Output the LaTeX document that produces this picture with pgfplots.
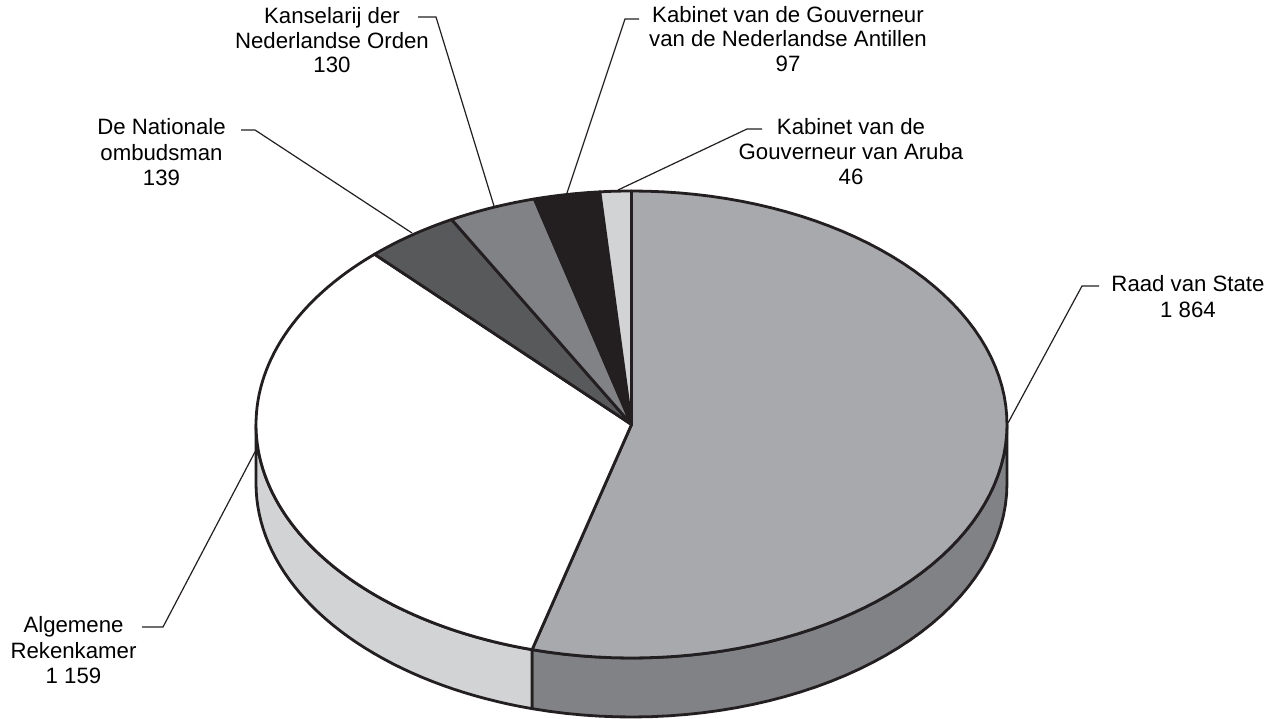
\documentclass[border=0pt]{standalone}
\usepackage{pgfplots}
\pgfplotsset{compat=1.18}
\usepackage{pgfplotstable}
\usepackage{fontspec}
\setmainfont{Liberation Sans}
\definecolor{cRaad}{HTML}{A7A9AC}
\definecolor{cRaadSide}{HTML}{808285}
\definecolor{cAlg}{HTML}{FFFFFF}
\definecolor{cAlgSide}{HTML}{D1D3D4}
\definecolor{cOmb}{HTML}{58595B}
\definecolor{cKan}{HTML}{808285}
\definecolor{cAnt}{HTML}{231F20}
\definecolor{cAru}{HTML}{D1D3D4}
\definecolor{cLine}{HTML}{231F20}

\pgfplotstableread{
idx value
1 1864
2 1159
3 139
4 130
5 97
6 46
}\piedata

\def\cx{631.5}
\def\cy{294.5}
\def\rx{375.5}
\def\ry{233.5}
\def\dep{59}

% top face of a slice between angles #1 and #2
\newcommand\topslice[3]{%
  \addplot[fill=#3, variable=\t, samples at={0,0.0125,...,1,1,2,3}]
  ({\cx+\rx*ifthenelse(abs(\t-2)<0.5,0,1)*cos(ifthenelse(\t<1.5,(#1)+((#2)-(#1))*\t,(#1)))},
   {\cy+\ry*ifthenelse(abs(\t-2)<0.5,0,1)*sin(ifthenelse(\t<1.5,(#1)+((#2)-(#1))*\t,(#1)))});
}
% side face of a slice between angles #1 and #2
\newcommand\sideface[3]{%
  \addplot[fill=#3, variable=\t, samples at={0,0.025,...,1,1,2,2.025,...,3,3,4}]
  ({\cx+\rx*cos(ifthenelse(\t<1.5,(#1)+((#2)-(#1))*\t,ifthenelse(\t<3.5,(#2)+((#1)-(#2))*(\t-2),(#1))))},
   {\cy+\ry*sin(ifthenelse(\t<1.5,(#1)+((#2)-(#1))*\t,ifthenelse(\t<3.5,(#2)+((#1)-(#2))*(\t-2),(#1))))
     -ifthenelse(\t>1.5,ifthenelse(\t<3.5,\dep,0),0)});
}
\newcommand\lbl[3]{\node[anchor=base, font=\fontsize{11.1bp}{12bp}\selectfont, inner sep=0pt] at (axis cs:#1,#2) {#3};}

\begin{document}
\begin{tikzpicture}
\pgfplotstablegetelem{0}{value}\of\piedata \pgfmathsetmacro\vA{\pgfplotsretval}
\pgfplotstablegetelem{1}{value}\of\piedata \pgfmathsetmacro\vB{\pgfplotsretval}
\pgfplotstablegetelem{2}{value}\of\piedata \pgfmathsetmacro\vC{\pgfplotsretval}
\pgfplotstablegetelem{3}{value}\of\piedata \pgfmathsetmacro\vD{\pgfplotsretval}
\pgfplotstablegetelem{4}{value}\of\piedata \pgfmathsetmacro\vE{\pgfplotsretval}
\pgfplotstablegetelem{5}{value}\of\piedata \pgfmathsetmacro\vF{\pgfplotsretval}
\pgfmathsetmacro\total{\vA+\vB+\vC+\vD+\vE+\vF}
\pgfmathsetmacro\aA{90}
\pgfmathsetmacro\aB{\aA-360*(\vA/\total)}
\pgfmathsetmacro\aC{\aB-360*(\vB/\total)}
\pgfmathsetmacro\aD{\aC-360*(\vC/\total)}
\pgfmathsetmacro\aE{\aD-360*(\vD/\total)}
\pgfmathsetmacro\aF{\aE-360*(\vE/\total)}
\pgfmathsetmacro\aG{\aF-360*(\vF/\total)}
\begin{axis}[scale only axis, width=637.5bp, height=359.5bp,
  xmin=0, xmax=1275, ymin=0, ymax=719, hide axis, clip=false,
  every axis plot/.append style={line width=1.4bp, line join=round, line cap=round, draw=cLine, mark=none}]
% sides (front half only)
\sideface{\aB}{0}{cRaadSide}
\sideface{-180}{\aB}{cAlgSide}
% top faces
\topslice{\aA}{\aB}{cRaad}
\topslice{\aB}{\aC}{cAlg}
\topslice{\aC}{\aD}{cOmb}
\topslice{\aD}{\aE}{cKan}
\topslice{\aE}{\aF}{cAnt}
\topslice{\aF}{\aG}{cAru}
% leader lines
\draw[line width=0.6bp, cLine] (axis cs:418,702) -- (axis cs:436,702) -- (axis cs:494,513);
\draw[line width=0.6bp, cLine] (axis cs:241,589) -- (axis cs:255,589) -- (axis cs:412,486);
\draw[line width=0.6bp, cLine] (axis cs:639,700) -- (axis cs:625,700) -- (axis cs:567,526);
\draw[line width=0.6bp, cLine] (axis cs:762,590) -- (axis cs:747,590) -- (axis cs:618,529);
\draw[line width=0.6bp, cLine] (axis cs:1099,433) -- (axis cs:1082,433) -- (axis cs:1008,296);
\draw[line width=0.6bp, cLine] (axis cs:142,92) -- (axis cs:163,92) -- (axis cs:256,269);
% labels
\lbl{332}{695}{Kanselarij der}
\lbl{332}{670}{Nederlandse Orden}
\lbl{332}{646}{130}
\lbl{161.5}{584}{De Nationale}
\lbl{161.5}{558}{ombudsman}
\lbl{161.5}{533}{139}
\lbl{788}{696}{Kabinet van de Gouverneur}
\lbl{788}{672}{van de Nederlandse Antillen}
\lbl{788}{647}{97}
\lbl{851}{584}{Kabinet van de}
\lbl{851}{559}{Gouverneur van Aruba}
\lbl{851}{534}{46}
\lbl{1188}{427}{Raad van State}
\lbl{1188}{401}{1 864}
\lbl{73.5}{87}{Algemene}
\lbl{73.5}{61}{Rekenkamer}
\lbl{73.5}{36}{1 159}
\end{axis}
\pgfresetboundingbox
\useasboundingbox (current axis.south west) rectangle (current axis.north east);
\end{tikzpicture}
\end{document}
